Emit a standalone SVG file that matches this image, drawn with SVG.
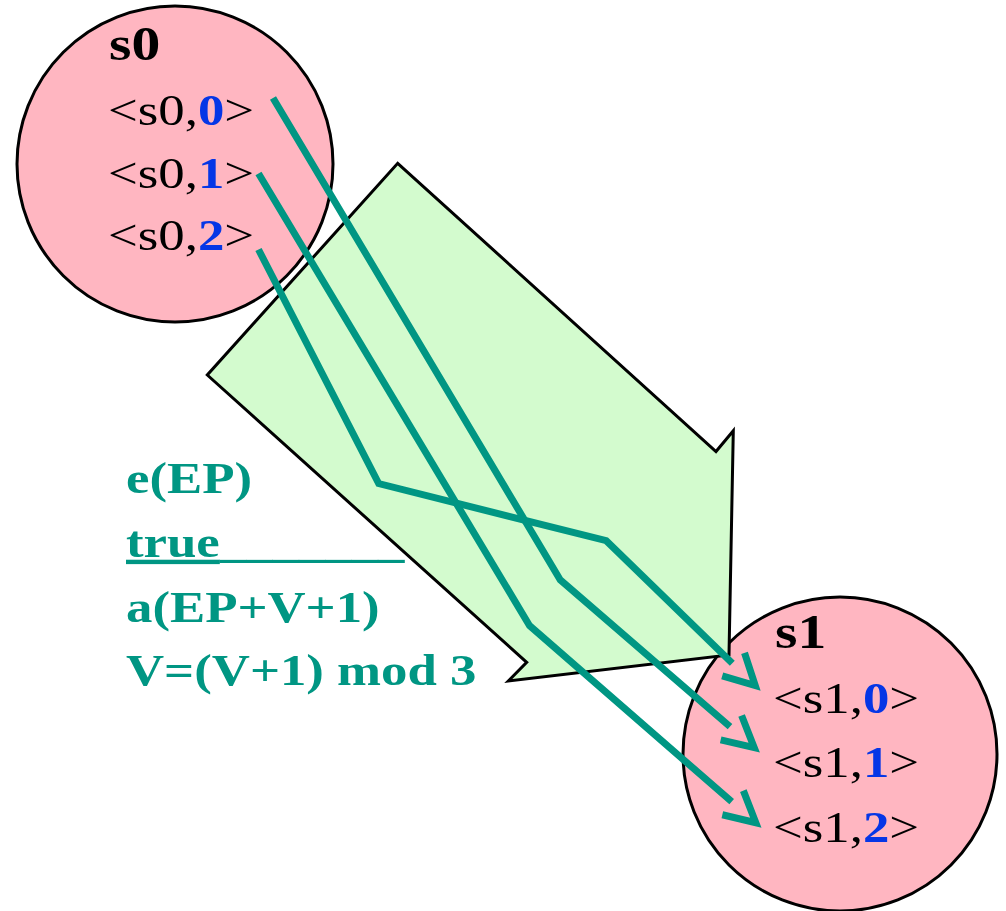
<svg xmlns="http://www.w3.org/2000/svg" width="1006" height="911" viewBox="0 0 1006 911">
<style>
.state{fill:#FFB6C1;stroke:#000;stroke-width:3}
.big{fill:#D3FBCE;stroke:#000;stroke-width:3;stroke-linejoin:miter}
.t{font-family:"Liberation Serif","Times New Roman",serif;font-size:44px;fill:#000}
.lbl{font-family:"Liberation Serif","Times New Roman",serif;font-size:48px;font-weight:bold;fill:#000}
.num{font-weight:bold;fill:#0536E6}
.cond{font-family:"Liberation Serif","Times New Roman",serif;font-size:44px;font-weight:bold;fill:#009683}
.conn{fill:none;stroke:#009683;stroke-width:7;stroke-linejoin:miter}
</style>
<defs>
<marker id="open" markerUnits="userSpaceOnUse" markerWidth="60" markerHeight="60" refX="0" refY="0" orient="auto" overflow="visible">
<path d="M1.5,-16 L32,0 L1.5,16" fill="none" stroke="#009683" stroke-width="7" stroke-linejoin="miter"/>
</marker>
</defs>
<g id="s0">
<circle class="state" cx="175" cy="164" r="158"/>
<text class="lbl" transform="translate(109,60) scale(1.2,1)">s0</text>
<text class="t" transform="translate(108,125) scale(1.2,1)">&lt;s0,<tspan class="num">0</tspan>&gt;</text>
<text class="t" transform="translate(108,188) scale(1.2,1)">&lt;s0,<tspan class="num">1</tspan>&gt;</text>
<text class="t" transform="translate(108,250) scale(1.2,1)">&lt;s0,<tspan class="num">2</tspan>&gt;</text>
</g>
<g id="s1">
<circle class="state" cx="840" cy="754" r="157"/>
<text class="lbl" transform="translate(775,648) scale(1.2,1)">s1</text>
<text class="t" transform="translate(773,713) scale(1.2,1)">&lt;s1,<tspan class="num">0</tspan>&gt;</text>
<text class="t" transform="translate(773,777) scale(1.2,1)">&lt;s1,<tspan class="num">1</tspan>&gt;</text>
<text class="t" transform="translate(773,842) scale(1.2,1)">&lt;s1,<tspan class="num">2</tspan>&gt;</text>
</g>
<g id="transition">
<polygon class="big" points="397.7,163.3 716,451.5 733.3,430.7 729,655 508.3,681 526.7,662.3 207.3,375"/>
</g>
<g id="connectors">
<polyline class="conn" points="273,98 560.3,580 730,726.7" marker-end="url(#open)"/>
<polyline class="conn" points="258.5,173.5 529.6,625.7 731.7,801.7" marker-end="url(#open)"/>
<polyline class="conn" points="258.5,249.5 378.7,483.6 606.2,540.7 732.3,663.3" marker-end="url(#open)"/>
</g>
<g id="label">
<text class="cond" transform="translate(126,493) scale(1.2,1)">e(EP)</text>
<text class="cond" transform="translate(126,557) scale(1.2,1)"><tspan text-decoration="underline">true</tspan>_______</text>
<text class="cond" transform="translate(126,622) scale(1.2,1)">a(EP+V+1)</text>
<text class="cond" transform="translate(126,685) scale(1.2,1)">V=(V+1) mod 3</text>
</g>
</svg>
